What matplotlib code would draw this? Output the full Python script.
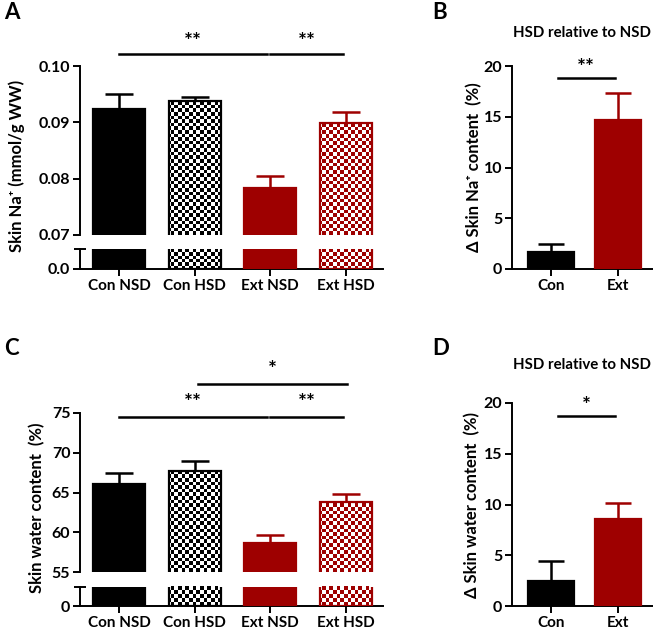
import numpy as np
import matplotlib
matplotlib.use('Agg')
import matplotlib.pyplot as plt
from matplotlib.colors import ListedColormap

# data (mean, SEM)
groups = ['Con NSD', 'Con HSD', 'Ext NSD', 'Ext HSD']
na_mean = [0.0924, 0.0938, 0.0783, 0.0898]
na_sem = [0.0026, 0.0007, 0.0021, 0.0021]
water_mean = [66.1, 67.7, 58.7, 63.8]
water_sem = [1.3, 1.3, 0.9, 1.0]

rel_groups = ['Con', 'Ext']
rel_na_mean = [1.7, 14.7]
rel_na_sem = [0.8, 2.6]
rel_water_mean = [2.5, 8.6]
rel_water_sem = [1.9, 1.5]

BLACK = '#000000'
RED = '#9E0000'
colors4 = [BLACK, BLACK, RED, RED]
checked4 = [False, True, False, True]

W, H = 653, 629
plt.rcParams['font.family'] = ['Lato', 'DejaVu Sans']
plt.rcParams['font.weight'] = 'bold'
plt.rcParams['axes.linewidth'] = 1.4

fig = plt.figure(figsize=(W / 100, H / 100), dpi=100)


def px_axes(x0, y0, x1, y1):
    # axes from pixel box (top-left origin)
    return fig.add_axes([x0 / W, 1 - y1 / H, (x1 - x0) / W, (y1 - y0) / H])


def style(ax):
    for s in ['top', 'right']:
        ax.spines[s].set_visible(False)
    ax.tick_params(labelsize=11.5, width=1.4, length=5, pad=2)
    ax.tick_params(axis='x', labelsize=11, pad=2)
    for lab in ax.get_xticklabels() + ax.get_yticklabels():
        lab.set_fontweight('bold')


def checker(ax, patch, color, cell=3.6):
    pos = ax.get_position()
    nx = int(round(pos.width * W / cell))
    ny = int(round(pos.height * H / cell))
    grid = np.indices((ny, nx)).sum(axis=0) % 2
    im = ax.imshow(grid, cmap=ListedColormap(['white', color]), extent=(0, 1, 0, 1),
                   transform=ax.transAxes, interpolation='nearest', aspect='auto', zorder=2)
    im.set_clip_path(patch)


def draw_bars(ax, x, vals, colors, checked, width, errs=None, cap=10):
    for xi, v, c, ch in zip(x, vals, colors, checked):
        bar = ax.bar(xi, v, width=width, color='none' if ch else c, edgecolor=c,
                     linewidth=1.6, zorder=3)[0]
        if ch:
            checker(ax, bar, c)
    if errs is not None:
        for xi, v, e, c in zip(x, vals, errs, colors):
            ax.errorbar(xi, v, yerr=[[0], [e]], fmt='none', ecolor=c, elinewidth=1.8,
                        capsize=cap, capthick=1.8, zorder=1)


def sig(ax, x0, x1, y, ystar, stars):
    ax.plot([x0, x1], [y, y], color='black', lw=1.8, clip_on=False)
    ax.text((x0 + x1) / 2, ystar, stars, ha='center', va='center', fontsize=15,
            fontweight='bold', clip_on=False)


def broken_panel(top_box, low_box, means, sems, top_lim, top_ticks, top_fmt, low_top, zero_label):
    x = np.arange(len(groups))
    at = px_axes(*top_box)
    al = px_axes(*low_box)
    for ax in (at, al):
        ax.set_xlim(-0.515, 3.49)
    draw_bars(at, x, means, colors4, checked4, 0.69, sems, cap=10)
    draw_bars(al, x, means, colors4, checked4, 0.69)
    at.set_ylim(*top_lim)
    at.set_yticks(top_ticks)
    at.set_yticklabels([top_fmt % t for t in top_ticks])
    at.spines['bottom'].set_visible(False)
    at.set_xticks([])
    al.set_ylim(0, low_top)
    al.set_yticks([0])
    al.set_yticklabels([zero_label])
    al.set_yticks([low_top], minor=True)
    al.tick_params(axis='y', which='minor', direction='inout', length=8, width=1.4)
    al.set_xticks(x)
    al.set_xticklabels(groups)
    style(at)
    style(al)
    return at, al


def rel_panel(box, means, sems, title, title_y):
    ax = px_axes(*box)
    x = np.arange(len(rel_groups))
    draw_bars(ax, x, means, [BLACK, RED], [False, False], 0.68, sems, cap=9.5)
    ax.set_xlim(-0.58, 1.52)
    ax.set_ylim(0, 20)
    ax.set_yticks([0, 5, 10, 15, 20])
    ax.set_xticks(x)
    ax.set_xticklabels(rel_groups)
    style(ax)
    fig.text(582 / W, 1 - title_y / H, title, ha='center', va='center', fontsize=10.8,
             fontweight='bold')
    return ax


# panel A
atA, alA = broken_panel((80, 66, 383, 235), (80, 249, 383, 269), na_mean, na_sem,
                        (0.07, 0.10), [0.07, 0.08, 0.09, 0.10], '%.2f', 0.006, '0.0')
sig(atA, 0, 1.96, 0.1021, 0.1043, '**')
sig(atA, 2.0, 2.96, 0.1021, 0.1043, '**')
fig.text(17 / W, 1 - 166 / H, 'Skin Na\u207a (mmol/g WW)', rotation=90, ha='center',
         va='center', fontsize=12, fontweight='bold')

# panel C
atC, alC = broken_panel((80, 413, 383, 572), (80, 587, 383, 606), water_mean, water_sem,
                        (55, 75), [55, 60, 65, 70, 75], '%d', 6, '0')
sig(atC, 0, 1.96, 74.5, 76.3, '**')
sig(atC, 2.0, 2.96, 74.5, 76.3, '**')
sig(atC, 1.04, 3.01, 78.65, 80.4, '*')
fig.text(37 / W, 1 - 508 / H, 'Skin water content  (%)', rotation=90, ha='center',
         va='center', fontsize=12, fontweight='bold')

# panel B
axB = rel_panel((512, 66, 653, 269), rel_na_mean, rel_na_sem, 'HSD relative to NSD', 33)
sig(axB, 0.1, 0.95, 18.8, 19.8, '**')
fig.text(474 / W, 1 - 167 / H, '\u0394 Skin Na\u207a content  (%)', rotation=90, ha='center',
         va='center', fontsize=12, fontweight='bold')

# panel D
axD = rel_panel((512, 403, 653, 606), rel_water_mean, rel_water_sem, 'HSD relative to NSD', 365)
sig(axD, 0.1, 0.95, 18.7, 19.7, '*')
fig.text(472 / W, 1 - 505 / H, '\u0394 Skin water content  (%)', rotation=90, ha='center',
         va='center', fontsize=12, fontweight='bold')

# panel letters
for lab, xp, yp in [('A', 4, 2), ('B', 432, 2), ('C', 4, 338), ('D', 432, 338)]:
    fig.text(xp / W, 1 - yp / H, lab, ha='left', va='top', fontsize=16, fontweight='bold')

fig.savefig('out.png', dpi=100)
